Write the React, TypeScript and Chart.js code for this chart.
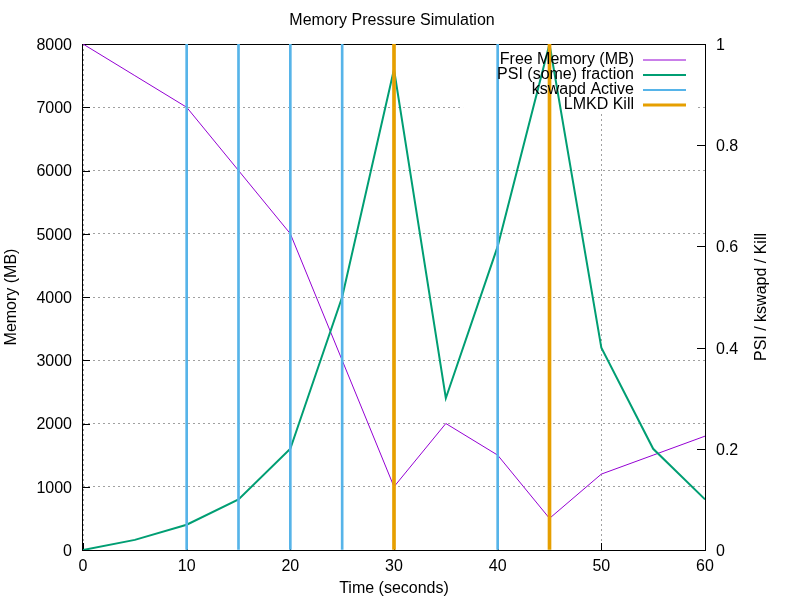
import React, { useEffect, useRef } from "react";
import { Chart, registerables } from "chart.js";

Chart.register(...registerables);

// ---- data ----
const times = [0, 5, 10, 15, 20, 25, 30, 35, 40, 45, 50, 55, 60];
const freeMemoryMB = [8000, 7500, 7000, 6000, 5000, 3000, 1000, 2000, 1500, 500, 1200, 1500, 1800];
const psiSome = [0, 0.02, 0.05, 0.1, 0.2, 0.5, 0.95, 0.3, 0.6, 1.0, 0.4, 0.2, 0.1];
const kswapdActive = [0, 0, 1, 1, 1, 1, 0, 0, 1, 0, 0, 0, 0];
const lmkdKill = [0, 0, 0, 0, 0, 0, 1, 0, 0, 1, 0, 0, 0];
const seriesLabels = ["Free Memory (MB)", "PSI (some) fraction", "kswapd Active", "LMKD Kill"];
const chartTitle = "Memory Pressure Simulation";
const xTitle = "Time (seconds)";
const yTitle = "Memory (MB)";
const y2Title = "PSI / kswapd / Kill";

const FONT = "'Liberation Sans', Arial, Helvetica, sans-serif";
const COLORS = ["#9400d3", "#009e73", "#56b4e9", "#e69f00"];
const WIDTHS = [1, 2, 2, 3];

const toPoints = (vals: number[]) => times.map((t, i) => ({ x: t, y: vals[i] }));
// impulses: a zero value draws nothing
const toImpulses = (vals: number[]) => times.map((t, i) => ({ x: t, y: vals[i] > 0 ? vals[i] : null }));

const decor = {
  id: "gnuplotDecor",
  beforeDatasetsDraw(chart: any) {
    const { ctx, chartArea: a, scales } = chart;
    ctx.save();
    // key background (hides grid)
    ctx.font = `16px ${FONT}`;
    const textRight = a.right - 71;
    let maxW = 0;
    chart.data.datasets.forEach((d: any) => {
      maxW = Math.max(maxW, ctx.measureText(d.label).width);
    });
    ctx.fillStyle = "#fff";
    const boxL = textRight - maxW - 34;
    ctx.fillRect(boxL, a.top + 1, a.right - 8 - boxL, 4 * 15 + 9);
    // inward ticks
    ctx.strokeStyle = "#000";
    ctx.lineWidth = 1;
    ctx.beginPath();
    scales.x.ticks.forEach((t: any) => {
      const px = Math.round(scales.x.getPixelForValue(t.value)) + 0.5;
      ctx.moveTo(px, a.bottom);
      ctx.lineTo(px, a.bottom - 7);
    });
    scales.y.ticks.forEach((t: any) => {
      const py = Math.round(scales.y.getPixelForValue(t.value)) + 0.5;
      ctx.moveTo(a.left, py);
      ctx.lineTo(a.left + 7, py);
    });
    scales.y2.ticks.forEach((t: any) => {
      const py = Math.round(scales.y2.getPixelForValue(t.value)) + 0.5;
      ctx.moveTo(a.right, py);
      ctx.lineTo(a.right - 8, py);
    });
    ctx.stroke();
    // frame
    ctx.strokeRect(Math.round(a.left) - 0.5, Math.round(a.top) + 0.5, Math.round(a.right - a.left) + 1, Math.round(a.bottom - a.top));
    ctx.restore();
  },
  afterDatasetsDraw(chart: any) {
    const { ctx, chartArea: a } = chart;
    ctx.save();
    ctx.font = `16px ${FONT}`;
    ctx.fillStyle = "#000";
    // key
    const textRight = a.right - 71;
    chart.data.datasets.forEach((d: any, i: number) => {
      const y = a.top + 16 + i * 15;
      ctx.textAlign = "right";
      ctx.textBaseline = "middle";
      ctx.fillStyle = "#000";
      ctx.fillText(d.label, textRight, y - 0.5);
      ctx.strokeStyle = d.borderColor || d.backgroundColor;
      ctx.lineWidth = WIDTHS[i];
      ctx.beginPath();
      ctx.moveTo(a.right - 62, y);
      ctx.lineTo(a.right - 19, y);
      ctx.stroke();
    });
    // title
    ctx.fillStyle = "#000";
    ctx.textAlign = "center";
    ctx.textBaseline = "middle";
    ctx.fillText(chartTitle, 392, 21);
    // y2 title
    ctx.translate(762, (a.top + a.bottom) / 2);
    ctx.rotate(-Math.PI / 2);
    ctx.fillText(y2Title, 0, 0);
    ctx.restore();
  },
};

export default function App() {
  const ref = useRef<HTMLCanvasElement>(null);
  useEffect(() => {
    if (!ref.current) return;
    Chart.defaults.font.family = FONT;
    Chart.defaults.font.size = 16;
    Chart.defaults.color = "#000";
    const gridOpts = { color: "#a0a0a0", lineWidth: 1, drawTicks: false };
    const chart = new Chart(ref.current, {
      type: "line",
      data: {
        datasets: [
          {
            label: seriesLabels[0],
            data: toPoints(freeMemoryMB),
            borderColor: COLORS[0],
            backgroundColor: COLORS[0],
            borderWidth: WIDTHS[0],
            pointRadius: 0,
            tension: 0,
            yAxisID: "y",
            order: 4,
          },
          {
            label: seriesLabels[1],
            data: toPoints(psiSome),
            borderColor: COLORS[1],
            backgroundColor: COLORS[1],
            borderWidth: WIDTHS[1],
            pointRadius: 0,
            tension: 0,
            yAxisID: "y2",
            order: 3,
          },
          {
            type: "bar",
            label: seriesLabels[2],
            data: toImpulses(kswapdActive),
            backgroundColor: COLORS[2],
            borderColor: COLORS[2],
            borderWidth: 0,
            barThickness: WIDTHS[2],
            maxBarThickness: WIDTHS[2],
            grouped: false,
            yAxisID: "y2",
            order: 2,
          } as any,
          {
            type: "bar",
            label: seriesLabels[3],
            data: toImpulses(lmkdKill),
            backgroundColor: COLORS[3],
            borderColor: COLORS[3],
            borderWidth: 0,
            barThickness: WIDTHS[3],
            maxBarThickness: WIDTHS[3],
            grouped: false,
            yAxisID: "y2",
            order: 1,
          } as any,
        ],
      },
      options: {
        animation: false,
        responsive: false,
        devicePixelRatio: 1,
        layout: { padding: { top: 44, left: 0, right: 0, bottom: 0 } },
        plugins: { legend: { display: false }, title: { display: false }, tooltip: { enabled: false } },
        scales: {
          x: {
            type: "linear",
            position: "bottom",
            min: 0,
            max: 60,
            offset: false,
            ticks: { stepSize: 10, padding: 7, maxRotation: 0 },
            grid: { ...gridOpts, offset: false },
            border: { display: false, dash: [2, 3] },
            title: { display: true, text: xTitle, padding: { top: 0, bottom: 2 } },
            afterFit: (s: any) => {
              s.height = 50;
            },
          },
          y: {
            type: "linear",
            position: "left",
            min: 0,
            max: 8000,
            ticks: { stepSize: 1000, padding: 11, labelOffset: 1.5, callback: (v: any) => String(v) },
            grid: gridOpts,
            border: { display: false, dash: [2, 3] },
            title: { display: true, text: yTitle, padding: { top: 2.4, bottom: 0 } },
            afterFit: (s: any) => {
              s.width = 83;
            },
          },
          y2: {
            type: "linear",
            position: "right",
            min: 0,
            max: 1,
            ticks: { stepSize: 0.2, padding: 11, labelOffset: 1.5, callback: (v: any) => String(Math.round(v * 10) / 10) },
            grid: { drawOnChartArea: false, drawTicks: false },
            border: { display: false },
            afterFit: (s: any) => {
              s.width = 95;
            },
          },
        } as any,
      },
      plugins: [decor],
    } as any);
    return () => chart.destroy();
  }, []);
  return (
    <div style={{ position: "absolute", left: 0, top: 0, width: 800, height: 600, background: "#fff" }}>
      <canvas ref={ref} width={800} height={600} />
    </div>
  );
}
